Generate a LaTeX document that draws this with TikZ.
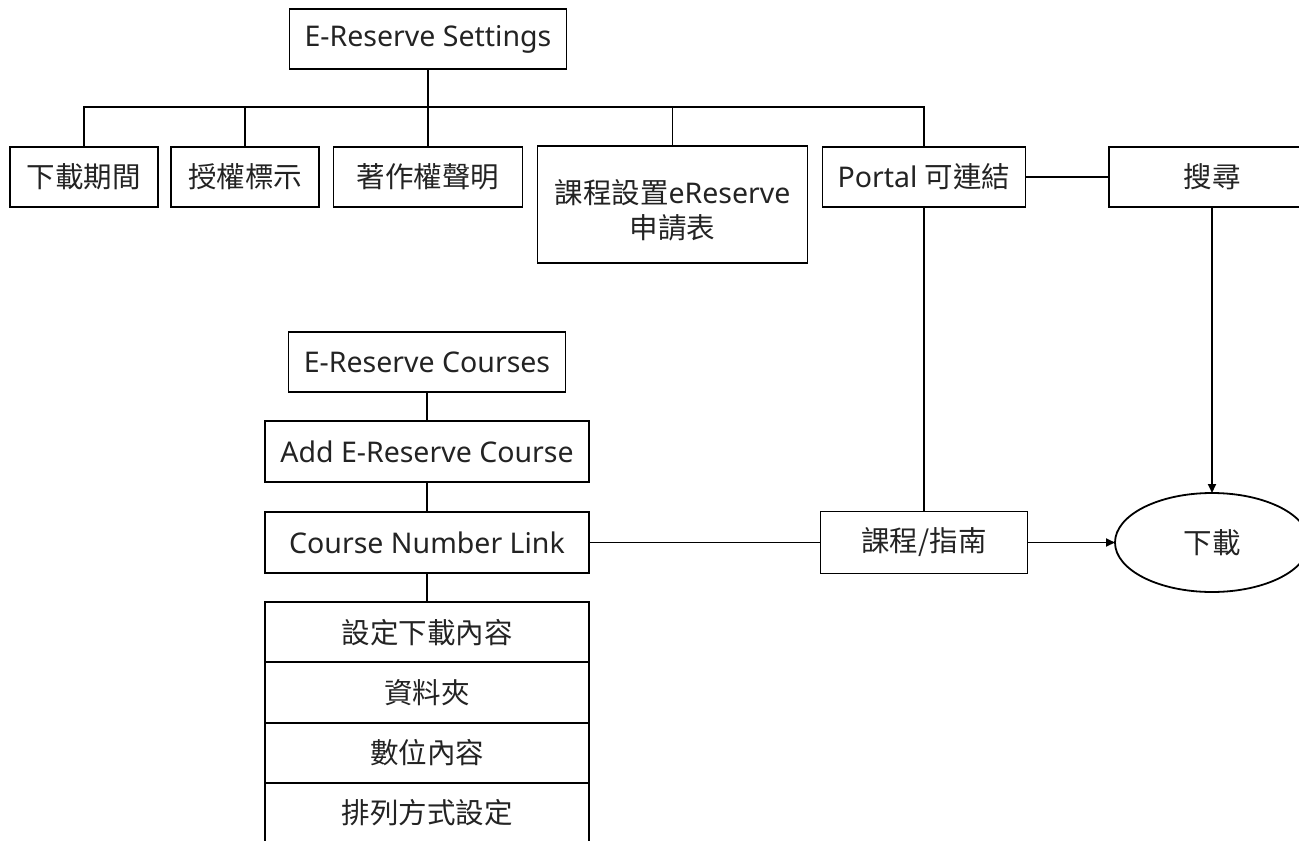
\documentclass[tikz,border=0pt]{standalone}
\usepackage{fontspec}
\setmainfont{Noto Sans}
\newfontfamily\cjk{Noto Sans CJK TC}
\usetikzlibrary{arrows.meta,shapes.geometric}
\newcommand\zh[1]{{\cjk\fontsize{28.5}{34}\selectfont #1}}
\definecolor{txt}{RGB}{35,35,35}
\tikzset{
  box/.style={draw=black, line width=1.8pt, rectangle, inner sep=0pt, outer sep=0pt, align=center,
    text=txt, font=\fontsize{28.5}{34}\selectfont},
  textonly/.style={inner sep=0pt, outer sep=0pt, align=center, text=txt, font=\fontsize{28.5}{34}\selectfont},
  link/.style={draw=black, line width=1.8pt},
  arr/.style={link, -{Triangle[length=9pt,width=8pt]}}
}
\begin{document}
\begin{tikzpicture}[x=1pt,y=-1pt]
\useasboundingbox (0,0) rectangle (1299,841);
\clip (0,0) rectangle (1299,841);
\fill[white] (0,0) rectangle (1299,841);

% top tree
\node[box, minimum width=277pt, minimum height=60pt] (set) at (428,39) {E-Reserve Settings};
\node[box, minimum width=148pt, minimum height=60pt] (n1) at (84,177) {\zh{下載期間}};
\node[box, minimum width=148pt, minimum height=60pt] (n2) at (245,177) {\zh{授權標示}};
\node[box, minimum width=189pt, minimum height=60pt] (n3) at (428,177) {\zh{著作權聲明}};
\node[box, minimum width=270pt, minimum height=117pt] (n4) at (672.5,204.5) {};
\node[textonly] (n4t) at (672.5,210) {\zh{課程設置}eReserve\\[1pt]\zh{申請表}};
\node[box, minimum width=203pt, minimum height=60pt] (n5) at (924,177) {Portal \zh{可連結}};
\node[box, minimum width=206pt, minimum height=60pt] (search) at (1212,177) {\zh{搜尋}};

\coordinate (bus) at (0,107);
\draw[link] (n1.north) -- (n1.north |- bus) -- (n5.north |- bus) -- (n5.north);
\draw[link] (set.south) -- (set.south |- bus);
\draw[link] (n2.north) -- (n2.north |- bus);
\draw[link] (n3.north) -- (n3.north |- bus);
\draw[link] (n4.north) -- (n4.north |- bus);
\draw[link] (n5.east) -- (search.west);

% course chain
\node[box, minimum width=277pt, minimum height=60pt] (courses) at (427,362) {E-Reserve Courses};
\node[box, minimum width=324pt, minimum height=61pt] (add) at (427,451.5) {Add E-Reserve Course};
\node[box, minimum width=324pt, minimum height=61pt] (cnl) at (427,542.5) {Course Number Link};
\node[box, minimum width=324pt, minimum height=60.3pt] (l1) at (427,632.2) {\zh{設定下載內容}};
\node[box, minimum width=324pt, minimum height=60.3pt, anchor=north] (l2) at (l1.south) {\zh{資料夾}};
\node[box, minimum width=324pt, minimum height=60.3pt, anchor=north] (l3) at (l2.south) {\zh{數位內容}};
\node[box, minimum width=324pt, minimum height=60.3pt, anchor=north] (l4) at (l3.south) {\zh{排列方式設定}};

\draw[link] (courses.south) -- (add.north);
\draw[link] (add.south) -- (cnl.north);
\draw[link] (cnl.south) -- (l1.north);

% right side
\node[box, minimum width=207pt, minimum height=62pt] (guide) at (924,542.5) {\zh{課程/指南}};
\node[box, ellipse, minimum width=194pt, minimum height=99pt] (dl) at (1212,542.5) {\zh{下載}};

\draw[link] (cnl.east) -- (guide.west);
\draw[link] (n5.south) -- (n5.south |- guide.north);
\draw[arr] (guide.east) -- (dl.west);
\draw[arr] (search.south) -- (dl.north);
\end{tikzpicture}
\end{document}
